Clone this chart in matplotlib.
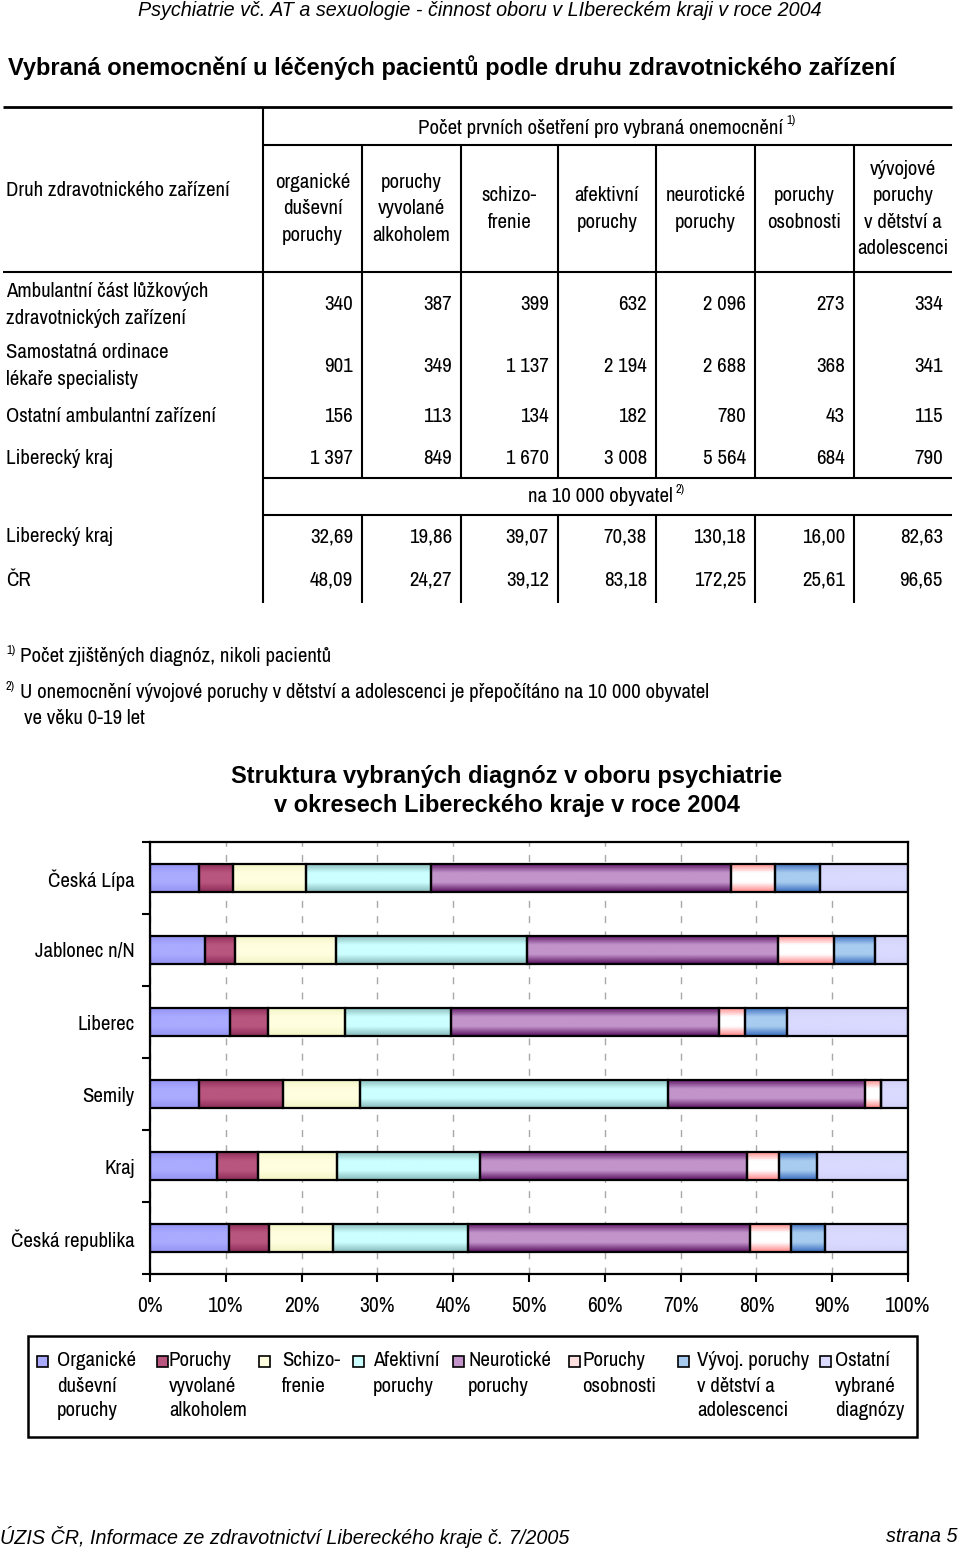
import numpy as np
import matplotlib
matplotlib.use("Agg")
import matplotlib.pyplot as plt
from matplotlib import font_manager
from matplotlib.colors import LinearSegmentedColormap
from matplotlib.lines import Line2D
from matplotlib.patches import Rectangle

# --- fonty (úzké písmo, pokud je k dispozici) ---
_names = {f.name for f in font_manager.fontManager.ttflist}
WIDE = "Liberation Sans"
if "Archivo Narrow" in _names:
    NARROW, FS, LS = "Archivo Narrow", 15.0, 1.0
else:
    NARROW, FS, LS = WIDE, 12.5, 1.1
plt.rcParams["font.family"] = [NARROW, "DejaVu Sans"]
WIDE_F = [WIDE, "DejaVu Sans"]

# --- data: tabulka ---
col_headers = ["organické\nduševní\nporuchy", "poruchy\nvyvolané\nalkoholem", "schizo-\nfrenie",
               "afektivní\nporuchy", "neurotické\nporuchy", "poruchy\nosobnosti",
               "vývojové\nporuchy\nv dětství a\nadolescenci"]
row_labels = ["Ambulantní část lůžkových\nzdravotnických zařízení",
              "Samostatná ordinace\nlékaře specialisty",
              "Ostatní ambulantní zařízení",
              "Liberecký kraj"]
row_values = [["340", "387", "399", "632", "2 096", "273", "334"],
              ["901", "349", "1 137", "2 194", "2 688", "368", "341"],
              ["156", "113", "134", "182", "780", "43", "115"],
              ["1 397", "849", "1 670", "3 008", "5 564", "684", "790"]]
rate_labels = ["Liberecký kraj", "ČR"]
rate_values = [["32,69", "19,86", "39,07", "70,38", "130,18", "16,00", "82,63"],
               ["48,09", "24,27", "39,12", "83,18", "172,25", "25,61", "96,65"]]

# --- data: graf (% struktura) ---
categories = ["Česká Lípa", "Jablonec n/N", "Liberec", "Semily", "Kraj", "Česká republika"]
organicke = [6.5, 7.2, 10.6, 6.5, 8.8, 10.4]
alkohol = [4.4, 4.0, 5.0, 11.1, 5.4, 5.3]
schizofrenie = [9.7, 13.3, 10.1, 10.1, 10.5, 8.4]
afektivni = [16.5, 25.3, 14.0, 40.7, 18.9, 17.9]
neuroticke = [39.6, 33.0, 35.4, 25.9, 35.1, 37.1]
osobnosti = [5.7, 7.5, 3.4, 2.2, 4.3, 5.4]
vyvojove = [6.0, 5.4, 5.5, 0.0, 5.0, 4.6]
ostatni = [11.6, 4.3, 16.0, 3.5, 12.0, 10.9]
series = [organicke, alkohol, schizofrenie, afektivni, neuroticke, osobnosti, vyvojove, ostatni]
legend_labels = ["Organické\nduševní\nporuchy", "Poruchy\nvyvolané\nalkoholem", "Schizo-\nfrenie",
                 "Afektivní\nporuchy", "Neurotické\nporuchy", "Poruchy\nosobnosti",
                 "Vývoj. poruchy\nv dětství a\nadolescenci", "Ostatní\nvybrané\ndiagnózy"]
x_ticks = list(range(0, 101, 10))

# barvy (okraj, střed) pro přechod
colors = [("#9494f4", "#aaaaff"), ("#8c2c58", "#b9567f"), ("#f2f2c4", "#ffffe0"),
          ("#86b8b8", "#ccffff"), ("#5a1060", "#c294ca"), ("#ff8484", "#ffffff"),
          ("#3a6cbe", "#a8ccf0"), ("#d2d2fa", "#dadaff")]

W, H = 960, 1550
fig = plt.figure(figsize=(W / 100, H / 100), dpi=100)
renderer = fig.canvas.get_renderer()


def fx(x):
    return x / W


def fy(y):
    return 1 - y / H


def T(x, y, s, **kw):
    kw.setdefault("va", "center")
    kw.setdefault("fontsize", FS)
    return fig.text(fx(x), fy(y), s, **kw)


def sup_after(t, s, dy=-7):
    bb = t.get_window_extent(renderer)
    x = bb.x1 + 3
    y = H - (bb.y0 + bb.y1) / 2 + dy
    return T(x, y, s, fontsize=9)


def L(x0, y0, x1, y1, lw=1.5):
    fig.add_artist(Line2D([fx(x0), fx(x1)], [fy(y0), fy(y1)], color="black", lw=lw,
                          transform=fig.transFigure, solid_capstyle="butt"))


# záhlaví
T(480, 10, "Psychiatrie vč. AT a sexuologie - činnost oboru v LIbereckém kraji v roce 2004",
  ha="center", style="italic", fontsize=14.2, family=WIDE_F)
T(8, 68, "Vybraná onemocnění u léčených pacientů podle druhu zdravotnického zařízení",
  fontweight="bold", fontsize=17, family=WIDE_F)

# tabulka - čáry
col_div = [263, 362, 461, 558, 656, 755, 854]
right_edge = 952
L(3, 107, right_edge, 107, lw=2)
L(263, 145, right_edge, 145)
L(3, 272, right_edge, 272)
L(263, 478, right_edge, 478)
L(263, 515, right_edge, 515)
L(263, 107, 263, 603)
for xd in col_div[1:]:
    L(xd, 145, xd, 478)
    L(xd, 515, xd, 603)

t = T(418, 128, "Počet prvních ošetření pro vybraná onemocnění")
sup_after(t, "1)")
T(6, 190, "Druh zdravotnického zařízení")

centers = [(a + b) / 2 for a, b in zip(col_div, col_div[1:] + [right_edge])]
for c, h in zip(centers, col_headers):
    T(c, 209, h, ha="center", multialignment="center", linespacing=1.48 * LS)

row_y = [305, 366, 416, 458]
for y, lab, vals in zip(row_y, row_labels, row_values):
    T(6, y, lab, linespacing=1.52 * LS)
    for xd, v in zip(col_div[1:] + [right_edge], vals):
        T(xd - 9, y, v, ha="right")

t = T(528, 497, "na 10 000 obyvatel")
sup_after(t, "2)")
for y, lab, vals in zip([537, 580], rate_labels, rate_values):
    T(6, y, lab)
    for xd, v in zip(col_div[1:] + [right_edge], vals):
        T(xd - 9, y, v, ha="right")

# poznámky
T(6, 650, "1)", fontsize=9)
T(20, 657, "Počet zjištěných diagnóz, nikoli pacientů")
T(6, 686, "2)", fontsize=9)
T(20, 693, "U onemocnění vývojové poruchy v dětství a adolescenci je přepočítáno na 10 000 obyvatel")
T(24, 719, "ve věku 0-19 let")

# nadpis grafu
T(507, 791, "Struktura vybraných diagnóz v oboru psychiatrie\nv okresech Libereckého kraje v roce 2004",
  ha="center", multialignment="center", fontweight="bold", fontsize=17, linespacing=1.3,
  family=WIDE_F)

# --- graf ---
ax = fig.add_axes([fx(150), fy(1274), (908 - 150) / W, (1274 - 842) / H])
ypos = np.arange(len(categories))
grad = np.linspace(0, 1, 64).reshape(-1, 1)
left = np.zeros(len(categories))
for vals, (edge, mid) in zip(series, colors):
    vals = np.array(vals)
    bars = ax.barh(ypos, vals, left=left, height=0.39, color="none",
                   edgecolor="black", linewidth=1.6, zorder=3)
    cmap = LinearSegmentedColormap.from_list("g", [edge, mid, mid, edge])
    for b in bars:
        if b.get_width() <= 0:
            continue
        ax.imshow(grad, cmap=cmap, aspect="auto", interpolation="bicubic", zorder=2,
                  extent=(b.get_x(), b.get_x() + b.get_width(),
                          b.get_y() + b.get_height(), b.get_y()))
    left = left + vals

ax.set_xlim(0, 100)
ax.set_ylim(len(categories) - 0.5, -0.5)
ax.set_aspect("auto")
ax.set_xticks(x_ticks)
ax.set_xticklabels([f"{t}%" for t in x_ticks])
ax.set_yticks(np.arange(-0.5, len(categories)))
ax.set_yticklabels([])
ax.set_yticks(ypos, minor=True)
ax.set_yticklabels(categories, minor=True)
ax.tick_params(axis="y", which="minor", length=0, pad=11, labelsize=FS)
ax.tick_params(axis="y", which="major", length=6, width=1.5, direction="out")
ax.tick_params(axis="x", length=6, width=1.5, direction="out", pad=10, labelsize=FS + 0.5)
ax.grid(axis="x", color="#a8a8a8", linestyle=(0, (5, 6)), linewidth=1)
ax.set_axisbelow(True)
for s in ax.spines.values():
    s.set_linewidth(1.6)

# legenda
fig.add_artist(Rectangle((fx(28), fy(1437)), (917 - 28) / W, (1437 - 1336) / H,
                         transform=fig.transFigure, fill=False, edgecolor="black", lw=1.8))
sq_x = [37, 157, 259, 353, 453, 569, 678, 820]
tx_x = [57, 169, 282, 373, 468, 582, 697, 835]
for sx, tx, lab, (edge, mid) in zip(sq_x, tx_x, legend_labels, colors):
    fig.add_artist(Rectangle((fx(sx), fy(1367)), 11 / W, 11 / H, transform=fig.transFigure,
                             facecolor=mid if mid != "#ffffff" else "#ffe0e0",
                             edgecolor="black", lw=1.2))
    for k, line in enumerate(lab.split("\n")):
        T(tx, 1361 + 25 * k, line)

# zápatí
T(0, 1537, "ÚZIS ČR, Informace ze zdravotnictví Libereckého kraje č. 7/2005",
  style="italic", fontsize=14.2, family=WIDE_F)
T(958, 1537, "strana 5", ha="right", style="italic", fontsize=14.2, family=WIDE_F)

fig.savefig("out.png", dpi=100)
